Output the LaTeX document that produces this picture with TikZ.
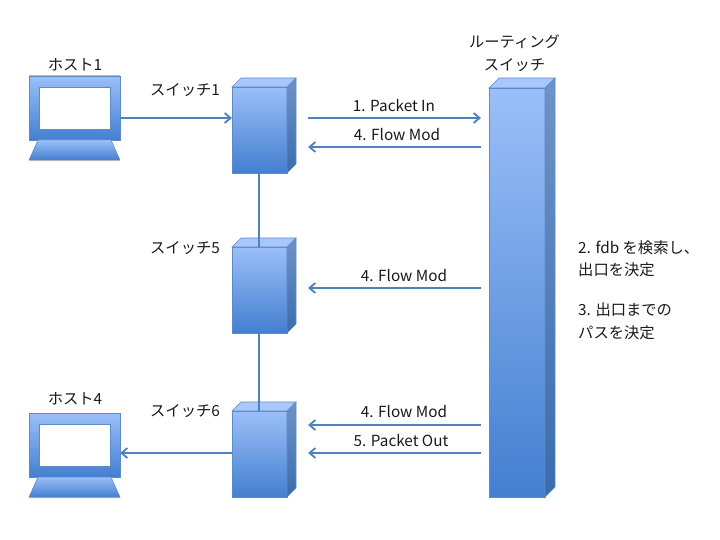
\documentclass[tikz,border=0pt]{standalone}
\usepackage{fontspec}
\setmainfont{Noto Sans CJK JP}
\usetikzlibrary{arrows.meta,calc,shadows}
\definecolor{lineblue}{HTML}{4F81BD}
\definecolor{edgeblue}{HTML}{5B8CC8}
\definecolor{gradtop}{HTML}{9BBFF8}
\definecolor{gradbot}{HTML}{447FD0}
\definecolor{toptop}{HTML}{A8C8FB}
\definecolor{sidetop}{HTML}{6F93C8}
\definecolor{sidebot}{HTML}{3A6CAB}
\tikzset{
  x=1pt,y=-1pt,
  front/.style={rectangle,inner sep=0pt,outer sep=0pt,draw=edgeblue,line width=.6pt,top color=gradtop,bottom color=gradbot,general shadow={fill=black!25,shadow xshift=0pt,shadow yshift=-1.2pt}},
  sw/.style={front,minimum width=55pt,minimum height=86pt},
  lab/.style={font=\fontsize{15.3}{22.5}\selectfont,inner sep=0pt,align=center,text=black!90},
  link/.style={draw=lineblue,line width=2.1pt},
  arr/.style={link,-{Straight Barb[length=6pt,width=10pt,line width=1.8pt]}},
}
\newcommand{\boxfaces}[2]{%
  \path[draw=edgeblue,line width=.6pt,fill=toptop]
    (#1.north west) -- ++(#2,-#2) -- ($(#1.north east)+(#2,-#2)$) -- (#1.north east) -- cycle;
  \path[draw=edgeblue,line width=.6pt,top color=sidetop,bottom color=sidebot]
    (#1.north east) -- ++(#2,-#2) -- ($(#1.south east)+(#2,-#2)$) -- (#1.south east) -- cycle;
}
\newcommand{\hostpc}[2]{%
  \node[front,minimum width=91pt,minimum height=64pt,anchor=north west] (#1) at (29,#2) {};
  \node[rectangle,inner sep=0pt,draw=edgeblue,line width=.8pt,fill=white,minimum width=71pt,minimum height=42pt,general shadow={fill=black!25,shadow xshift=0pt,shadow yshift=-.8pt}] (#1screen) at (#1.center) {};
  \path[draw=edgeblue,line width=.5pt,top color=gradtop,bottom color=gradbot,general shadow={fill=black!25,shadow xshift=0pt,shadow yshift=-1.2pt}]
    (#1.south west) ++(9,0) -- ++(73,0) -- ++(9,20) -- ++(-91,0) -- cycle;
}
\begin{document}
\begin{tikzpicture}
\useasboundingbox (0,0) rectangle (720,540);
\node[sw,anchor=north west] (s1) at (232,87) {};
\node[sw,anchor=north west] (s5) at (232,247) {};
\node[sw,anchor=north west] (s6) at (232,411) {};
\node[front,minimum width=56pt,minimum height=409pt,anchor=north west] (rs) at (489,88) {};
\boxfaces{s1}{9}
\boxfaces{s5}{9}
\boxfaces{s6}{9}
\boxfaces{rs}{10}
\hostpc{h1}{76}
\hostpc{h4}{413}
\coordinate (s1out) at (259,173);
\coordinate (s5in) at (259,247);
\coordinate (s5out) at (259,333);
\coordinate (s6in) at (259,411);
\draw[link] (s1out) -- (s5in);
\draw[link] (s5out) -- (s6in);
\coordinate (h1out) at (120,118);
\coordinate (s1in) at (232,118);
\coordinate (s6out) at (232,453);
\coordinate (h4in) at (120,453);
\draw[arr] (h1out) -- (s1in);
\draw[arr] (s6out) -- (h4in);
\foreach \n/\y in {a/118,b/147,c/288,d/425,e/453}{
  \coordinate (l\n) at (308,\y);
  \coordinate (r\n) at (481,\y);
}
\draw[arr] (la) -- (ra);
\draw[arr] (rb) -- (lb);
\draw[arr] (rc) -- (lc);
\draw[arr] (rd) -- (ld);
\draw[arr] (re) -- (le);
\node[lab] (t1) at (394,106) {1. Packet In};
\node[lab] (t2) at (397,135) {4. Flow Mod};
\node[lab] (t3) at (404,276) {4. Flow Mod};
\node[lab] (t4) at (404,412) {4. Flow Mod};
\node[lab] (t5) at (401,441) {5. Packet Out};
\node[lab] (th1) at (75,65) {ホスト1};
\node[lab] (th4) at (75,399) {ホスト4};
\node[lab] (ts1) at (185,90) {スイッチ1};
\node[lab] (ts5) at (185,248) {スイッチ5};
\node[lab] (ts6) at (185,411) {スイッチ6};
\node[lab] (trs) at (514.5,53) {ルーティング\\スイッチ};
\node[lab,align=left,anchor=west] (tn1) at (578,258.5) {2. fdb を検索し、\\出口を決定};
\node[lab,align=left,anchor=west] (tn2) at (578,321.5) {3. 出口までの\\パスを決定};
\end{tikzpicture}
\end{document}
